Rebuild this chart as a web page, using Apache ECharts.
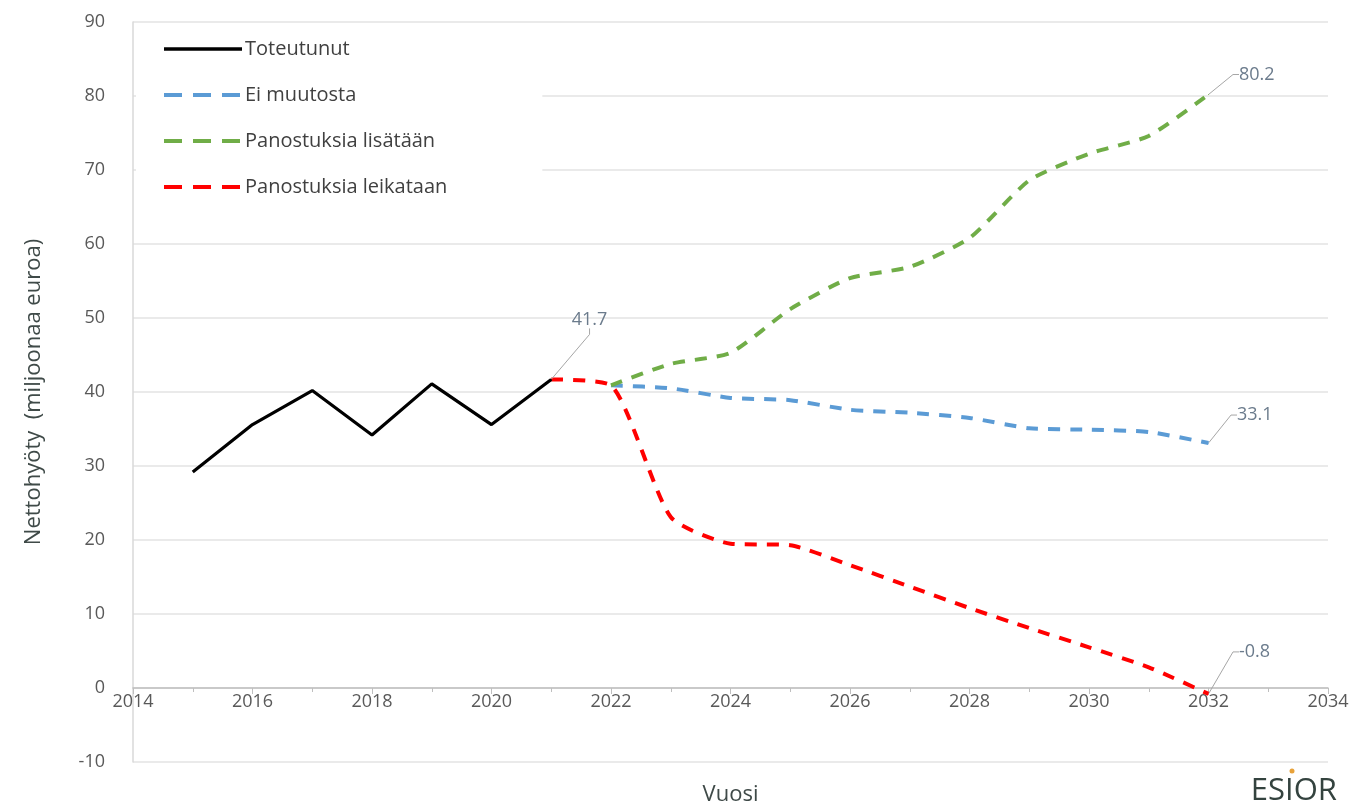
<!DOCTYPE html>
<html>
<head>
<meta charset="utf-8">
<script src="https://cdn.jsdelivr.net/npm/echarts@6/dist/echarts.min.js"></script>
<style>
  html, body { margin: 0; padding: 0; background: #fff; }
  #chart { width: 1359px; height: 809px; }
</style>
</head>
<body>
<div id="chart"></div>
<script>
  // toteutunut (actual)
  const actualYears = [2015, 2016, 2017, 2018, 2019, 2020, 2021];
  const actualValues = [29.2, 35.6, 40.2, 34.2, 41.1, 35.6, 41.7];

  // scenarios 2021-2032
  const scenarioYears = [2021, 2022, 2023, 2024, 2025, 2026, 2027, 2028, 2029, 2030, 2031, 2032];
  const noChange = [null, 40.9, 40.5, 39.2, 38.9, 37.6, 37.2, 36.5, 35.1, 34.9, 34.6, 33.1];
  const increase = [null, 40.9, 43.8, 45.3, 51.2, 55.4, 56.9, 60.8, 68.6, 72.2, 74.6, 80.2];
  const cut = [41.7, 40.9, 23.1, 19.5, 19.3, 16.6, 13.7, 10.8, 8.1, 5.5, 2.8, -0.8];

  const seriesNames = ['Toteutunut', 'Ei muutosta', 'Panostuksia lisätään', 'Panostuksia leikataan'];
  const yTicks = { min: -10, max: 90, step: 10 };
  const xTicks = { min: 2014, max: 2034, step: 2 };

  function pairs(years, vals) {
    let out = [];
    for (let i = 0; i < years.length; i++) {
      if (vals[i] === null) continue;
      out.push({ value: [years[i], vals[i]], symbol: 'none' });
    }
    // label only the last point (needs a symbol to carry the label)
    let last = out[out.length - 1];
    last.symbol = 'circle';
    last.symbolSize = 1;
    last.label = { show: true };
    last.labelLine = { show: true };
    return out;
  }

  const labelStyle = {
    show: false,
    position: 'right',
    distance: 4,
    color: '#6b7b8c',
    fontSize: 18,
    fontFamily: 'Open Sans',
    formatter: p => p.value[1].toFixed(1)
  };
  const guide = { show: false, length2: 6, lineStyle: { color: '#a6a6a6', width: 1 } };
  const legendDash = [18, 11];

  let chart = echarts.init(document.getElementById('chart'));

  // the x axis sits on the zero line: one y step above the grid bottom
  const gridTop = 22, gridBottom = 47;
  const plotH = 809 - gridTop - gridBottom;
  const zeroOffset = plotH * (0 - yTicks.min) / (yTicks.max - yTicks.min);

  let option = {
    backgroundColor: '#fff',
    animation: false,
    textStyle: { fontFamily: 'Open Sans' },
    grid: { left: 133, right: 31, top: gridTop, bottom: gridBottom, outerBoundsMode: 'none', containLabel: false },
    legend: {
      data: [
        { name: seriesNames[0], lineStyle: { width: 3.5, type: 'solid' } },
        { name: seriesNames[1], lineStyle: { width: 4, type: legendDash } },
        { name: seriesNames[2], lineStyle: { width: 4, type: legendDash } },
        { name: seriesNames[3], lineStyle: { width: 4, type: legendDash } }
      ],
      orient: 'vertical',
      left: 136,
      top: 35,
      itemGap: 26,
      itemWidth: 78,
      itemHeight: 14,
      itemStyle: { opacity: 0 },
      backgroundColor: '#fff',
      padding: [4, 95, 12, 26],
      textStyle: { fontSize: 20, color: '#404040', padding: [0, 0, 0, -2] }
    },
    xAxis: {
      type: 'value',
      min: xTicks.min,
      max: xTicks.max,
      interval: xTicks.step,
      offset: -zeroOffset,
      name: 'Vuosi',
      nameLocation: 'middle',
      nameGap: 96,
      nameTextStyle: { fontSize: 22, color: '#3f4a48' },
      axisLine: { onZero: false, lineStyle: { color: '#bfbfbf', width: 1.5 } },
      axisTick: { show: true, length: 6, lineStyle: { color: '#bfbfbf' } },
      minorTick: { show: true, splitNumber: 2, length: 4, lineStyle: { color: '#bfbfbf' } },
      axisLabel: { fontSize: 18, color: '#595959', margin: 5, formatter: v => String(v) },
      splitLine: { show: false }
    },
    yAxis: {
      type: 'value',
      min: yTicks.min,
      max: yTicks.max,
      interval: yTicks.step,
      name: 'Nettohyöty  (miljoonaa euroa)',
      nameLocation: 'middle',
      nameGap: 88,
      nameTextStyle: { fontSize: 22, color: '#3f4a48' },
      axisLine: { show: true, lineStyle: { color: '#d9d9d9', width: 1.5 } },
      axisTick: { show: false },
      axisLabel: { fontSize: 18, color: '#595959', margin: 28 },
      splitLine: { lineStyle: { color: '#e3e3e3', width: 1.5 } }
    },
    series: [
      {
        name: seriesNames[0],
        type: 'line',
        data: pairs(actualYears, actualValues),
        z: 4,
        color: '#000000',
        lineStyle: { color: '#000000', width: 3.2 },
        label: labelStyle,
        labelLine: guide,
        labelLayout: { dx: 16, dy: -60 }
      },
      {
        name: seriesNames[1],
        type: 'line',
        data: pairs(scenarioYears, noChange),
        smooth: 0.2,
        z: 2,
        color: '#5b9bd5',
        lineStyle: { color: '#5b9bd5', width: 4, type: [12, 10] },
        label: labelStyle,
        labelLine: guide,
        labelLayout: { dx: 24, dy: -28 }
      },
      {
        name: seriesNames[2],
        type: 'line',
        data: pairs(scenarioYears, increase),
        smooth: 0.2,
        z: 2,
        color: '#70ad47',
        lineStyle: { color: '#70ad47', width: 4, type: [12, 10] },
        label: labelStyle,
        labelLine: guide,
        labelLayout: { dx: 26, dy: -20 }
      },
      {
        name: seriesNames[3],
        type: 'line',
        data: pairs(scenarioYears, cut),
        smooth: 0.2,
        z: 3,
        color: '#ff0000',
        lineStyle: { color: '#ff0000', width: 4, type: [12, 10] },
        label: labelStyle,
        labelLine: guide,
        labelLayout: { dx: 26, dy: -42 }
      }
    ],
    graphic: [
      {
        type: 'text',
        right: 22,
        bottom: 2,
        style: { text: 'ESIOR', fontSize: 31, fontFamily: 'Open Sans', fill: '#34433f' }
      },
      {
        type: 'circle',
        shape: { cx: 1292, cy: 771, r: 2.5 },
        style: { fill: '#e8a23a' }
      }
    ]
  };
  chart.setOption(option);
</script>
</body>
</html>
